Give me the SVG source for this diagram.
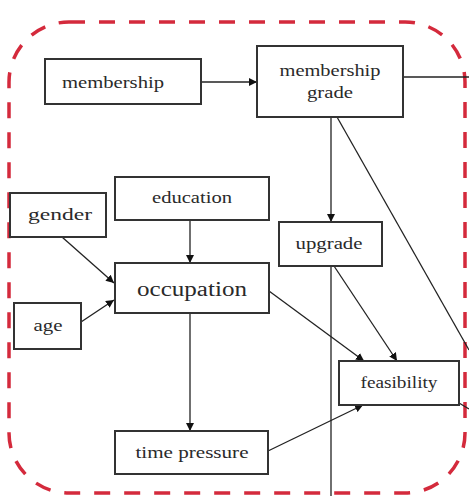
<svg xmlns="http://www.w3.org/2000/svg" width="469" height="496" viewBox="0 0 469 496">
  <defs>
    <marker id="arrow" viewBox="0 0 10 10" refX="10" refY="5" markerWidth="8" markerHeight="8" markerUnits="userSpaceOnUse" orient="auto">
      <path d="M0,0 L10,5 L0,10 z" fill="#111"/>
    </marker>
    <style>
      .box { fill: #fff; stroke: #333; stroke-width: 2; }
      .lbl { font-family: 'Liberation Serif', serif; font-size: 16px; fill: #2a2a2a; text-anchor: middle; }
      .big { font-size: 20px; }
      .edge { fill: none; stroke: #222; stroke-width: 1.3; }
      .arr { marker-end: url(#arrow); }
    </style>
  </defs>
  <rect width="469" height="496" fill="#fff"/>

  <!-- dashed boundary -->
  <rect x="9" y="22" width="456" height="471" rx="60" ry="60" fill="none" stroke="#d42a3c" stroke-width="3.5" stroke-dasharray="16 14"/>

  <g id="connectors">
    <line class="edge arr" x1="201" y1="82" x2="257" y2="82"/>
    <line class="edge" x1="403" y1="77" x2="469" y2="77"/>
    <line class="edge arr" x1="331" y1="117" x2="331" y2="222"/>
    <line class="edge" x1="337" y1="117" x2="469" y2="350"/>
    <line class="edge arr" x1="190" y1="220" x2="190" y2="263"/>
    <line class="edge arr" x1="62" y1="237" x2="114" y2="283"/>
    <line class="edge arr" x1="81" y1="322" x2="114" y2="300"/>
    <line class="edge arr" x1="190" y1="313" x2="190" y2="431"/>
    <line class="edge arr" x1="269" y1="291" x2="364" y2="361"/>
    <line class="edge arr" x1="334" y1="266" x2="397" y2="361"/>
    <line class="edge" x1="331" y1="266" x2="331" y2="496"/>
    <line class="edge arr" x1="268" y1="451" x2="363" y2="405"/>
    <line class="edge" x1="459" y1="403" x2="469" y2="409"/>
  </g>

  <g id="membership">
    <rect class="box" x="45" y="59" width="156" height="45"/>
    <text class="lbl" x="113" y="88" textLength="102" lengthAdjust="spacingAndGlyphs">membership</text>
  </g>
  <g id="membership-grade">
    <rect class="box" x="257" y="46" width="146" height="71"/>
    <text class="lbl" x="330" y="76" textLength="101" lengthAdjust="spacingAndGlyphs">membership</text>
    <text class="lbl" x="330" y="98" textLength="46" lengthAdjust="spacingAndGlyphs">grade</text>
  </g>
  <g id="education">
    <rect class="box" x="115" y="177" width="154" height="43"/>
    <text class="lbl" x="192" y="203" textLength="80" lengthAdjust="spacingAndGlyphs">education</text>
  </g>
  <g id="gender">
    <rect class="box" x="10" y="193" width="96" height="44"/>
    <text class="lbl" x="60" y="220" textLength="64" lengthAdjust="spacingAndGlyphs">gender</text>
  </g>
  <g id="upgrade">
    <rect class="box" x="279" y="222" width="103" height="44"/>
    <text class="lbl" x="329" y="249" textLength="67" lengthAdjust="spacingAndGlyphs">upgrade</text>
  </g>
  <g id="occupation">
    <rect class="box" x="115" y="263" width="154" height="50"/>
    <text class="lbl big" x="192" y="296" textLength="110" lengthAdjust="spacingAndGlyphs">occupation</text>
  </g>
  <g id="age">
    <rect class="box" x="14" y="303" width="67" height="46"/>
    <text class="lbl" x="48" y="331" textLength="29" lengthAdjust="spacingAndGlyphs">age</text>
  </g>
  <g id="feasibility">
    <rect class="box" x="339" y="361" width="120" height="44"/>
    <text class="lbl" x="399" y="388" textLength="77" lengthAdjust="spacingAndGlyphs">feasibility</text>
  </g>
  <g id="time-pressure">
    <rect class="box" x="115" y="431" width="153" height="43"/>
    <text class="lbl" x="192" y="458" textLength="113" lengthAdjust="spacingAndGlyphs">time pressure</text>
  </g>
</svg>
